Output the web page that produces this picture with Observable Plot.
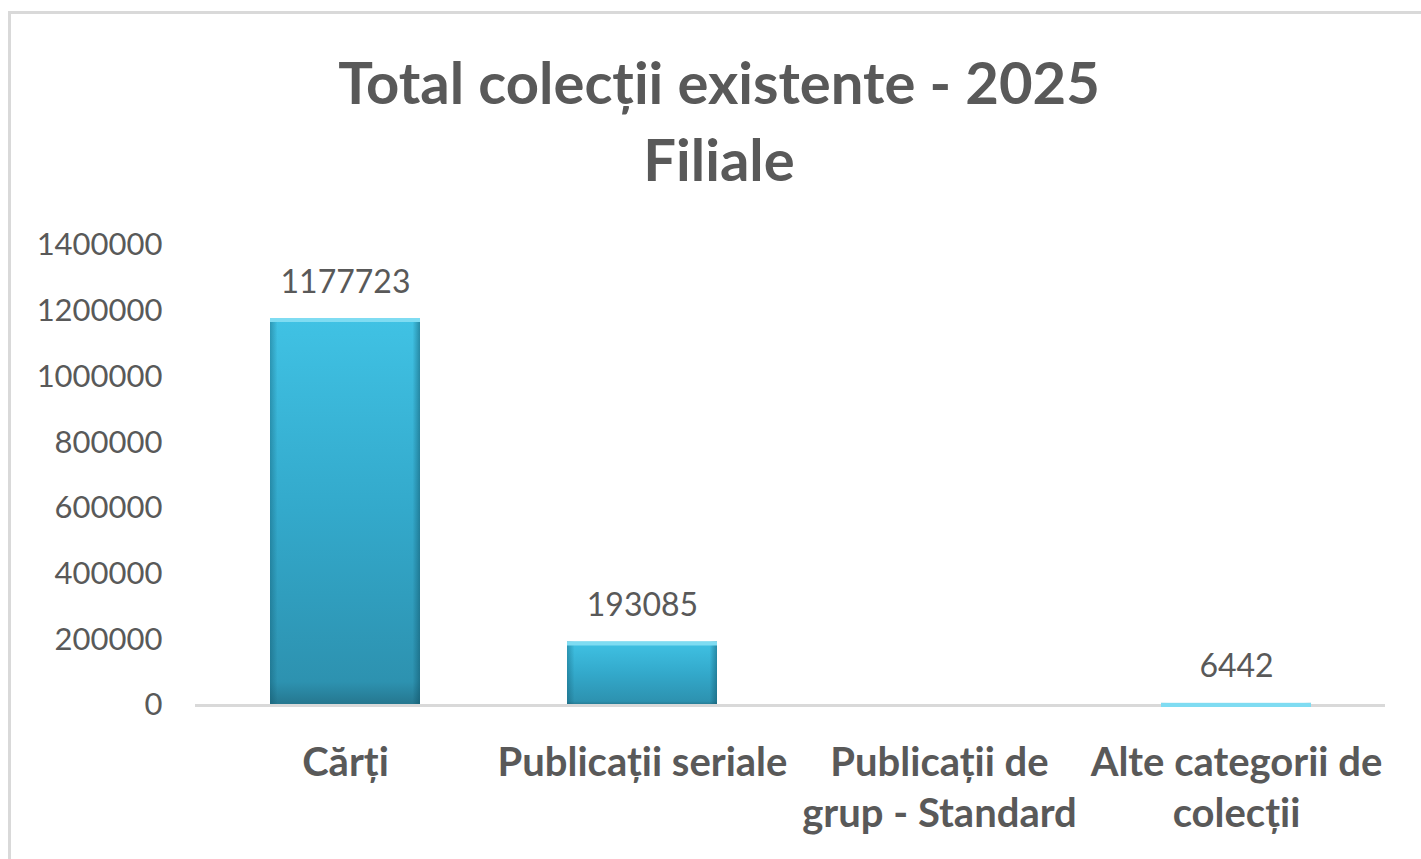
<!DOCTYPE html>
<html><head><meta charset="utf-8">
<script src="https://cdn.jsdelivr.net/npm/d3@7"></script>
<script src="https://cdn.jsdelivr.net/npm/@observablehq/plot@0.6"></script>
<style>
body{margin:0;background:#fff;width:1421px;height:859px;overflow:hidden;position:relative;font-family:Lato,"Open Sans",sans-serif}
#frame{position:absolute;left:8px;top:11px;width:1440px;height:870px;border:3px solid #d9d9d9;box-sizing:border-box}
#title{position:absolute;left:0;width:1438px;top:43px;text-align:center;font-weight:700;font-size:58px;line-height:77px;color:#595959}
#chart{position:absolute;left:0;top:0}
</style></head><body>
<div id="frame"></div>
<div id="title">Total colecții existente - 2025<br>Filiale</div>
<div id="chart"></div>
<script>
const categories = ["Cărți", "Publicații seriale", "Publicații de grup - Standard", "Alte categorii de colecții"];
const tickLabels = ["Cărți", "Publicații seriale", "Publicații de\ngrup - Standard", "Alte categorii de\ncolecții"];
const values = [1177723, 193085, 0, 6442];
const yTicks = [0, 200000, 400000, 600000, 800000, 1000000, 1200000, 1400000];

const data = categories.map((c, i) => ({cat: c, value: values[i]}));
const labelOf = new Map(categories.map((c, i) => [c, tickLabels[i]]));
const shown = data.filter(d => d.value > 0);

const plot = Plot.plot({
  width: 1421,
  height: 859,
  marginLeft: 195,
  marginRight: 36,
  marginTop: 245,
  marginBottom: 154,
  style: {fontFamily: "Lato, 'Open Sans', sans-serif", background: "transparent", color: "#595959"},
  x: {domain: categories, paddingInner: 0.496, paddingOuter: 0.248, label: null},
  y: {domain: [0, 1400000], label: null},
  marks: [
    Plot.axisY({ticks: yTicks, tickSize: 0, tickPadding: 33, fontSize: 31, tickFormat: d => String(d), fill: "#595959"}),
    Plot.axisX({tickSize: 0, tickPadding: 34, fontSize: 40, fontWeight: "bold", lineHeight: 1.28, tickFormat: d => labelOf.get(d), fill: "#595959"}),
    Plot.barY(shown, {x: "cat", y: "value", fill: "url(#vgrad)"}),
    Plot.barY(shown, {x: "cat", y: "value", fill: "url(#hgrad)"}),
    Plot.ruleY([0], {stroke: "#d9d9d9", strokeWidth: 3}),
    Plot.tickY(shown, {x: "cat", y: "value", stroke: "#7fdcf2", strokeWidth: 4, dy: 1.5}),
    Plot.text(shown, {x: "cat", y: "value", text: d => String(d.value), lineAnchor: "bottom", dy: -26, fontSize: 32, fill: "#595959"})
  ]
});

const defs = d3.select(plot).insert("defs", ":first-child");
const vg = defs.append("linearGradient").attr("id", "vgrad").attr("x1", 0).attr("y1", 0).attr("x2", 0).attr("y2", 1);
vg.append("stop").attr("offset", "0%").attr("stop-color", "#40c2e4");
vg.append("stop").attr("offset", "50%").attr("stop-color", "#33a9cb");
vg.append("stop").attr("offset", "94%").attr("stop-color", "#2d92b0");
vg.append("stop").attr("offset", "100%").attr("stop-color", "#25768e");
const hg = defs.append("linearGradient").attr("id", "hgrad").attr("x1", 0).attr("y1", 0).attr("x2", 1).attr("y2", 0);
hg.append("stop").attr("offset", "0%").attr("stop-color", "#0b4a5e").attr("stop-opacity", 0.35);
hg.append("stop").attr("offset", "5%").attr("stop-color", "#0b4a5e").attr("stop-opacity", 0);
hg.append("stop").attr("offset", "95%").attr("stop-color", "#0b4a5e").attr("stop-opacity", 0);
hg.append("stop").attr("offset", "100%").attr("stop-color", "#0b4a5e").attr("stop-opacity", 0.45);

document.getElementById("chart").appendChild(plot);
</script>
</body></html>
